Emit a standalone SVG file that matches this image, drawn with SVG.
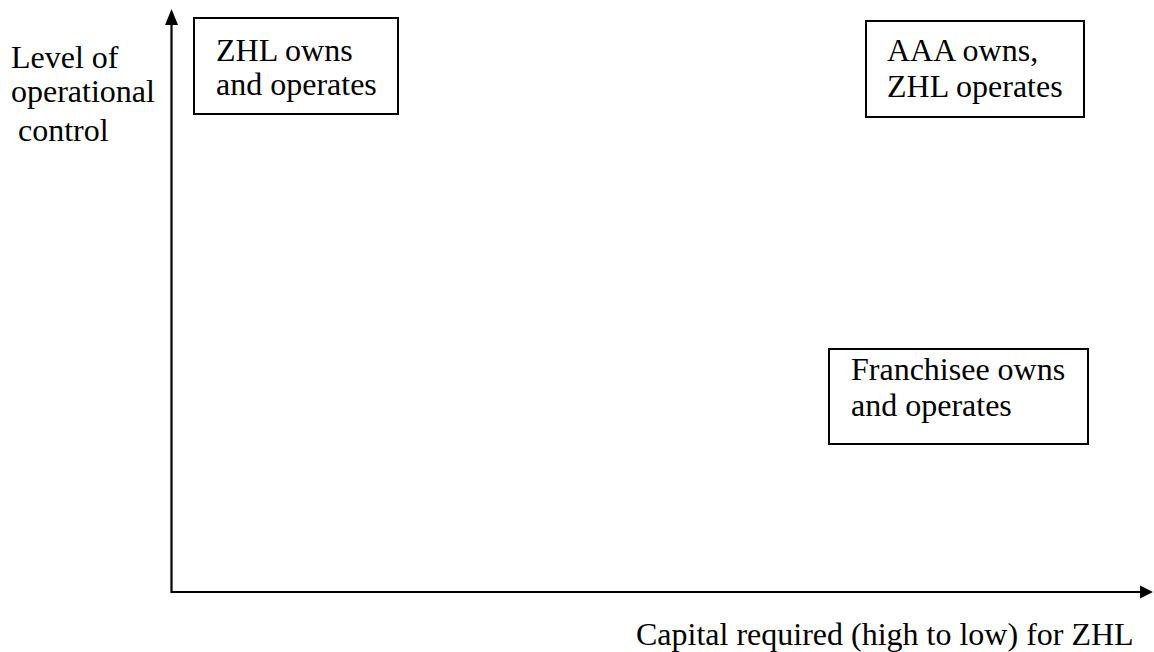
<svg xmlns="http://www.w3.org/2000/svg" width="1154" height="652" viewBox="0 0 1154 652">
<style>
.t{font-family:'Liberation Serif','Times New Roman',serif;font-size:32px;fill:#000}
.box{fill:#fff;stroke:#000;stroke-width:2}
.axis{stroke:#000;stroke-width:2.2;fill:none}
.head{fill:#000}
</style>
<rect width="1154" height="652" fill="#fff"/>
<g id="connectors">
<line class="axis" x1="171.5" y1="593" x2="171.5" y2="22"/>
<path class="head" d="M171.5,9 L165,25 L178,25 z"/>
<line class="axis" x1="171" y1="592" x2="1140" y2="592"/>
<path class="head" d="M1153,592 L1140,585.5 L1140,598.5 z"/>
</g>
<g id="ylabel" class="t">
<text x="11" y="68">Level of</text>
<text x="11" y="102">operational</text>
<text x="18" y="141">control</text>
</g>
<g id="xlabel" class="t">
<text x="636" y="645">Capital required (high to low) for ZHL</text>
</g>
<g id="node-zhl">
<rect class="box" x="194" y="18" width="204" height="96"/>
<text class="t" x="216" y="61">ZHL owns</text>
<text class="t" x="216" y="95">and operates</text>
</g>
<g id="node-aaa">
<rect class="box" x="866" y="21" width="218" height="96"/>
<text class="t" x="887" y="61">AAA owns,</text>
<text class="t" x="887" y="97">ZHL operates</text>
</g>
<g id="node-franchisee">
<rect class="box" x="829" y="349" width="259" height="95"/>
<text class="t" x="851" y="380">Franchisee owns</text>
<text class="t" x="851" y="416">and operates</text>
</g>
</svg>
